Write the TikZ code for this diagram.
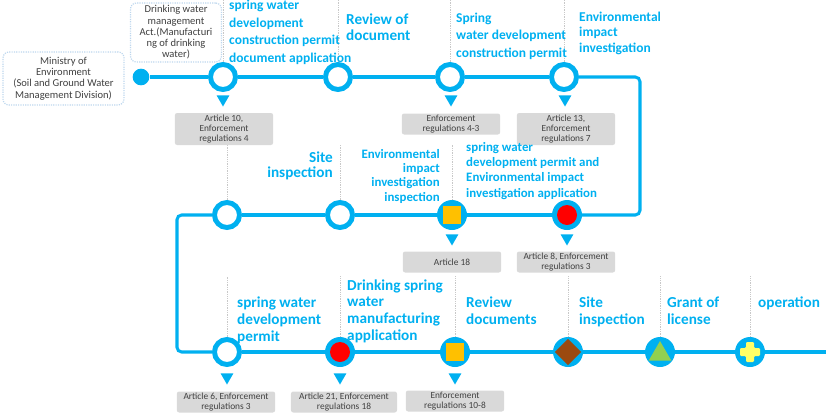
\documentclass[tikz,border=0pt]{standalone}
\usepackage{fontspec}
\setmainfont{Carlito}
\usetikzlibrary{shapes.geometric}
\definecolor{flowblue}{HTML}{00B0F0}
\definecolor{boxgray}{HTML}{D9D9D9}
\definecolor{textgray}{HTML}{404040}
\definecolor{framebl}{HTML}{BDD7EE}
\definecolor{guidegray}{HTML}{C8C8C8}
\definecolor{spotred}{HTML}{FF0000}
\definecolor{spotyellow}{HTML}{FFC000}
\definecolor{spotbrown}{HTML}{9C4A0F}
\definecolor{spotgreen}{HTML}{92D050}
\definecolor{spotlemon}{HTML}{FFFF66}
\begin{document}
\begin{tikzpicture}[x=0.03cm,y=-0.03cm,
  flow/.style={draw=flowblue, line width=2.6pt},
  guide/.style={draw=guidegray, densely dotted, line width=0.5pt},
  stage/.style={circle, draw=flowblue, line width=4.25pt, fill=white, minimum size=0.75cm, inner sep=0pt},
  fullstage/.style={circle, fill=flowblue, minimum size=0.9cm, inner sep=0pt},
  downtip/.style={regular polygon, regular polygon sides=3, shape border rotate=180, fill=flowblue, minimum size=0.45cm, inner sep=0pt},
  regbox/.style={fill=boxgray, rounded corners=2pt, text=textgray, font=\fontsize{8}{8.8}\selectfont, align=center, minimum width=2.95cm, minimum height=0.63cm, inner sep=1pt},
  agency/.style={draw=framebl, densely dotted, line width=1pt, fill=white, rounded corners=5pt, text=textgray, font=\fontsize{9}{9.6}\selectfont, align=center, inner sep=1pt},
  bluetext/.style={text=flowblue, font=\bfseries\fontsize{11.5}{14.8}\selectfont, align=left, anchor=base west, inner sep=0pt},
  redspot/.style={circle, fill=spotred, minimum size=0.6cm, inner sep=0pt},
  yellowsq/.style={rectangle, fill=spotyellow, minimum size=0.56cm, inner sep=0pt},
  browndia/.style={diamond, fill=spotbrown, minimum width=0.8cm, minimum height=0.8cm, inner sep=0pt},
  greentri/.style={regular polygon, regular polygon sides=3, fill=spotgreen, minimum size=0.78cm, inner sep=0pt}]
\useasboundingbox (0,0) rectangle (827,415);

\node[agency, minimum width=3.63cm, minimum height=1.59cm] (ministry) at (63.5,78.5) {Ministry of\\Environment\\(Soil and Ground Water\\Management Division)};
\node[agency, minimum width=2.73cm, minimum height=1.77cm] (act) at (176,32.5) {Drinking water\\management\\Act.(Manufacturi\\ng of drinking\\water)};

\node[circle, fill=flowblue, minimum size=0.5cm, inner sep=0pt] (start) at (141,77) {};
\node[stage] (a1) at (223,77) {};
\node[stage] (a2) at (338,77) {};
\node[stage] (a3) at (450,77) {};
\node[stage] (a4) at (564,77) {};
\node[stage] (b1) at (227,215) {};
\node[stage] (b2) at (340,215) {};
\node[fullstage] (b3) at (452,215) {};
\node[fullstage] (b4) at (567,215) {};
\node[stage] (c1) at (227,352) {};
\node[fullstage] (c2) at (340,352) {};
\node[fullstage] (c3) at (455,352) {};
\node[fullstage] (c4) at (568,352) {};
\node[fullstage] (c5) at (660,352) {};
\node[fullstage] (c6) at (750,352) {};

\node[yellowsq] (b3in) at (b3) {};
\node[redspot] (b4in) at (b4) {};
\node[redspot] (c2in) at (c2) {};
\node[yellowsq] (c3in) at (c3) {};
\node[browndia] (c4in) at (c4) {};
\node[greentri] (c5in) at (660,354) {};
\fill[spotlemon, shift={(c6)}, rounded corners=1pt] (-4,-10) -- (4,-10) -- (4,-4) -- (10,-4) -- (10,4) -- (4,4) -- (4,10) -- (-4,10) -- (-4,4) -- (-10,4) -- (-10,-4) -- (-4,-4) -- cycle;

\coordinate (r1) at (640,77);
\coordinate (r2) at (640,215);
\coordinate (l1) at (177,215);
\coordinate (l2) at (177,352);
\coordinate (fin) at (826,352);

\draw[flow] (start) -- (a1) -- (a2) -- (a3) -- (a4);
\draw[flow, rounded corners=4pt] (a4) -- (r1) -- (r2) -- (b4);
\draw[flow] (b4) -- (b3) -- (b2) -- (b1);
\draw[flow, rounded corners=4pt] (b1) -- (l1) -- (l2) -- (c1);
\draw[flow] (c1) -- (c2) -- (c3) -- (c4) -- (c5) -- (c6) -- (fin);

\foreach \n/\t in {a1/0, a2/0, a3/0, a4/0, b1/145, b2/145, b3/145, c1/276, c2/276, c3/276, c4/276, c5/276, c6/276}
  \draw[guide] (\n.north) -- (\n |- 0,\t);

\node[downtip] (a1p) at (223,99) {};
\node[downtip] (a3p) at (451,99) {};
\node[downtip] (a4p) at (565,99) {};
\node[downtip] (b3p) at (452,238) {};
\node[downtip] (b4p) at (567,238) {};
\node[downtip] (c1p) at (227,377) {};
\node[downtip] (c2p) at (340,377) {};
\node[downtip] (c3p) at (455,377) {};

\node[regbox, minimum height=0.96cm] (a1r) at (224,129) {Article 10,\\Enforcement\\regulations 4};
\node[regbox] (a3r) at (451,124) {Enforcement\\regulations 4-3};
\node[regbox, minimum height=0.96cm] (a4r) at (566,129) {Article 13,\\Enforcement\\regulations 7};
\node[regbox] (b3r) at (452,262) {Article 18};
\node[regbox] (b4r) at (566,262) {Article 8, Enforcement\\regulations 3};
\node[regbox] (c1r) at (226,402) {Article 6, Enforcement\\regulations 3};
\node[regbox, minimum width=3.18cm] (c2r) at (344,402) {Article 21, Enforcement\\regulations 18};
\node[regbox] (c3r) at (455,401) {Enforcement\\regulations 10-8};

\node[bluetext] (a1t) at (229,62) {spring water\\development\\construction permit\\document application};
\node[bluetext, font=\bfseries\fontsize{13}{13.6}\selectfont] (a2t) at (346,40) {Review of\\document};
\node[bluetext] (a3t) at (456,57) {Spring\\water development\\construction permit};
\node[bluetext, font=\bfseries\fontsize{11.5}{13.2}\selectfont] (a4t) at (579,52) {Environmental\\impact\\investigation};
\node[bluetext, font=\bfseries\fontsize{13}{12.8}\selectfont, align=right, anchor=base east] (b2t) at (333,177) {Site\\inspection};
\node[bluetext, font=\bfseries\fontsize{11}{12}\selectfont, align=right, anchor=base east] (b3t) at (440,201) {Environmental\\impact\\investigation\\inspection};
\node[bluetext, font=\bfseries\fontsize{11}{13}\selectfont] (b4t) at (466,197) {spring water\\development permit and\\Environmental impact\\investigation application};
\node[bluetext, font=\bfseries\fontsize{13}{14.5}\selectfont] (c1t) at (237,341) {spring water\\development\\permit};
\node[bluetext, font=\bfseries\fontsize{13}{14.2}\selectfont] (c2t) at (347,340) {Drinking spring\\water\\manufacturing\\application};
\node[bluetext, font=\bfseries\fontsize{13}{14.5}\selectfont] (c3t) at (466,324) {Review\\documents};
\node[bluetext, font=\bfseries\fontsize{13}{14.5}\selectfont] (c4t) at (579,324) {Site\\inspection};
\node[bluetext, font=\bfseries\fontsize{13}{14.5}\selectfont] (c5t) at (667,324) {Grant of\\license};
\node[bluetext, font=\bfseries\fontsize{13}{14.5}\selectfont] (c6t) at (758,307) {operation};
\end{tikzpicture}
\end{document}
